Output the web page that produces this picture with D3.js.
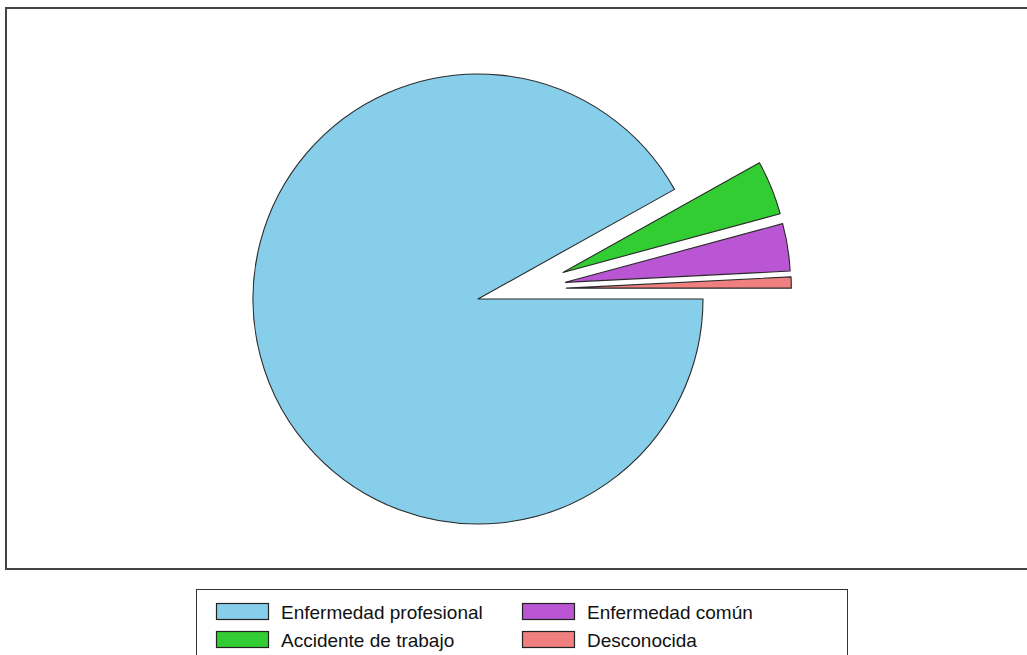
<!DOCTYPE html>
<html>
<head>
<meta charset="utf-8">
<script src="https://cdn.jsdelivr.net/npm/d3@7/dist/d3.min.js"></script>
<style>
  html, body { margin: 0; padding: 0; background: #fff; }
  svg { display: block; }
</style>
</head>
<body>
<svg id="chart" width="1027" height="655"></svg>
<script>
// ---- data ----
const categories = ["Enfermedad profesional", "Accidente de trabajo", "Enfermedad común", "Desconocida"];
const values = [91.9, 3.9, 3.4, 0.8];
const colors = ["#87CEEB", "#32CD32", "#BA55D3", "#F08080"];
const exploded = [false, true, true, true];
// legend layout order (column-major, 2 rows)
const legendOrder = [0, 1, 2, 3];

// ---- layout ----
const svg = d3.select("#chart");

// plot frame
svg.append("rect")
  .attr("x", 6).attr("y", 8)
  .attr("width", 1040).attr("height", 561)
  .attr("fill", "none")
  .attr("stroke", "#444")
  .attr("stroke-width", 2);

const cx = 478, cy = 299, R = 225;
const pie = d3.pie().sort(null).value(d => d)
  .startAngle(Math.PI / 2).endAngle(Math.PI / 2 + 2 * Math.PI);
const arcs = pie(values);
const arc = d3.arc().innerRadius(0).outerRadius(R);

// group mid angle of exploded slices
const ex = arcs.filter((a, i) => exploded[i]);
const gStart = d3.min(ex, a => a.startAngle), gEnd = d3.max(ex, a => a.endAngle);
const gMid = (gStart + gEnd) / 2;
const explodeDist = 89;

const g = svg.append("g").attr("transform", `translate(${cx},${cy})`);
g.selectAll("path.slice")
  .data(arcs)
  .join("path")
  .attr("class", "slice")
  .attr("d", arc)
  .attr("fill", (d, i) => colors[i])
  .attr("stroke", "#2a2a2a")
  .attr("stroke-width", 1.1)
  .attr("stroke-linejoin", "round")
  .attr("transform", (d, i) => {
    if (!exploded[i]) return null;
    const mid = (d.startAngle + d.endAngle) / 2;
    const a = 0.5 * mid + 0.5 * gMid + Math.PI / 180;
    const dx = explodeDist * Math.sin(a), dy = -explodeDist * Math.cos(a);
    return `translate(${dx},${dy})`;
  });

// ---- legend ----
const lg = svg.append("g");
lg.append("rect")
  .attr("x", 196.5).attr("y", 589.5)
  .attr("width", 651).attr("height", 90)
  .attr("fill", "#fff")
  .attr("stroke", "#333")
  .attr("stroke-width", 1);

const colX = [216, 522];
const rowY = [603, 631];
legendOrder.forEach((ci, k) => {
  const col = Math.floor(k / 2), row = k % 2;
  const x = colX[col], y = rowY[row];
  lg.append("rect")
    .attr("x", x + 0.5).attr("y", y + 0.5)
    .attr("width", 52).attr("height", 16)
    .attr("fill", colors[ci])
    .attr("stroke", "#222")
    .attr("stroke-width", 1.2);
  lg.append("text")
    .attr("x", x + 65).attr("y", y + 9)
    .attr("dominant-baseline", "central")
    .attr("font-family", "Liberation Sans, Arial, sans-serif")
    .attr("font-size", 19)
    .attr("fill", "#111")
    .text(categories[ci]);
});
</script>
</body>
</html>
